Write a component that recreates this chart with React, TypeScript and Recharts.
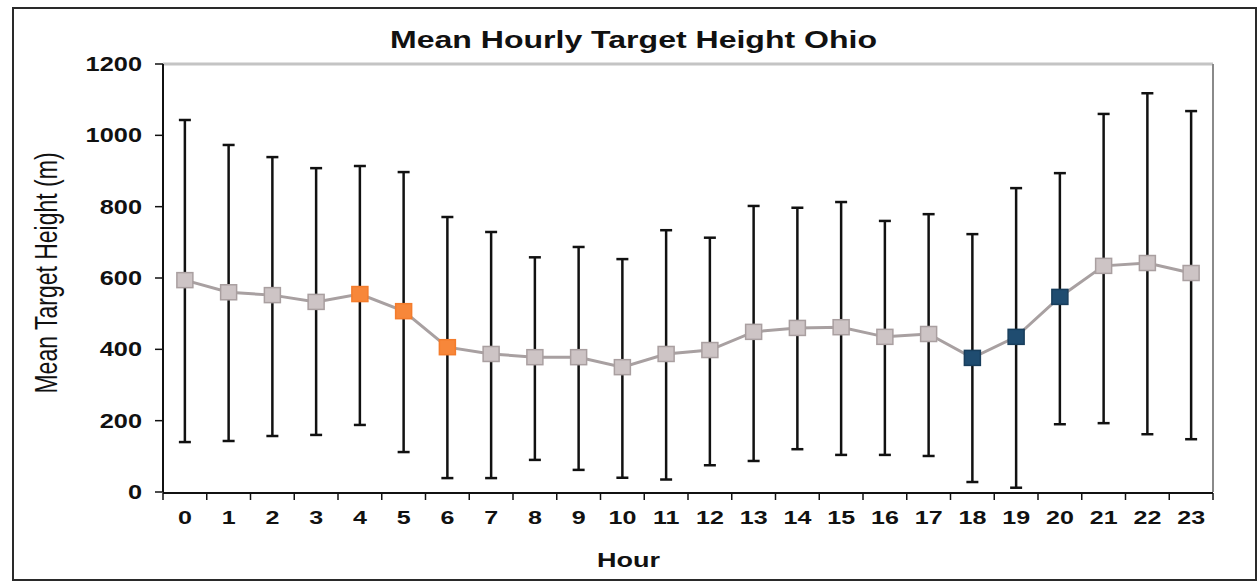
import React from 'react'
import { LineChart, Line, XAxis, YAxis, ErrorBar, ReferenceLine } from 'recharts'

// hour of day (x categories)
const hours = [0, 1, 2, 3, 4, 5, 6, 7, 8, 9, 10, 11, 12, 13, 14, 15, 16, 17, 18, 19, 20, 21, 22, 23]
// mean target height (m)
const means = [594, 560, 552, 533, 555, 507, 406, 387, 378, 378, 350, 387, 398, 449, 460, 462, 435, 443, 376, 435, 547, 634, 642, 614]
// top and bottom of each whisker
const highs = [1043, 973, 939, 908, 914, 897, 771, 729, 658, 687, 653, 734, 713, 802, 797, 813, 760, 779, 723, 852, 894, 1060, 1118, 1068]
const lows = [140, 143, 157, 160, 188, 112, 39, 39, 90, 62, 40, 35, 75, 87, 120, 104, 104, 101, 28, 12, 190, 193, 162, 148]
// marker groups: g = grey, o = orange, b = blue
const groups = ['g', 'g', 'g', 'g', 'o', 'o', 'o', 'g', 'g', 'g', 'g', 'g', 'g', 'g', 'g', 'g', 'g', 'g', 'b', 'b', 'b', 'g', 'g', 'g']
const yTicks = [0, 200, 400, 600, 800, 1000, 1200]

const fills: Record<string, string> = { g: '#cdc4c5', o: '#f7873a', b: '#1f4c70' }
const strokes: Record<string, string> = { g: '#a99fa0', o: '#f47c2c', b: '#183e5c' }

const data = hours.map((h, i) => ({
  hour: h,
  mean: means[i],
  err: [means[i] - lows[i], highs[i] - means[i]],
}))

// excel puts the tick marks between the categories
const boundaries = [-0.5, ...hours.map((h) => h + 0.5)]

const FONT = '"Liberation Sans", Arial, sans-serif'

function XTick({ x, y, payload }: any) {
  return (
    <g transform={`translate(${x},${y})`}>
      <text transform="scale(1.32,1)" y={32} textAnchor="middle" fontFamily={FONT} fontWeight="bold" fontSize={19} fill="#111">
        {payload.value}
      </text>
    </g>
  )
}

function YTick({ x, y, payload }: any) {
  return (
    <g transform={`translate(${x},${y})`}>
      <text transform="scale(1.3,1)" y={7} textAnchor="end" fontFamily={FONT} fontWeight="bold" fontSize={19.5} fill="#111">
        {payload.value}
      </text>
    </g>
  )
}

function Marker({ cx, cy, index }: any) {
  const g = groups[index]
  return <rect key={index} x={cx - 8} y={cy - 7.5} width={16} height={15} fill={fills[g]} stroke={strokes[g]} strokeWidth={1.5} />
}

export default function App() {
  return (
    <div style={{ position: 'absolute', left: 0, top: 0, width: 1259, height: 581, background: '#fff' }}>
      <div style={{ position: 'absolute', left: 12, top: 7, width: 1241, height: 570, border: '2px solid #2a2a2a' }} />
      <LineChart width={1259} height={581} data={data} margin={{ top: 64, right: 46, left: 0, bottom: 87 }}>
        <XAxis
          xAxisId="marks"
          type="number"
          dataKey="hour"
          domain={[-0.5, 23.5]}
          ticks={boundaries}
          interval={0}
          tickFormatter={() => ''}
          tickSize={7}
          height={1}
          axisLine={{ stroke: '#111', strokeWidth: 2 }}
          tickLine={{ stroke: '#111', strokeWidth: 1.5 }}
          allowDataOverflow
        />
        <XAxis
          xAxisId="main"
          type="number"
          dataKey="hour"
          domain={[-0.5, 23.5]}
          ticks={hours}
          interval={0}
          tick={<XTick />}
          tickSize={0}
          tickMargin={0}
          tickLine={false}
          axisLine={false}
          height={1}
          allowDataOverflow
        />
        <YAxis
          type="number"
          domain={[0, 1200]}
          ticks={yTicks}
          interval={0}
          width={163}
          tickSize={8}
          tickMargin={13}
          tick={<YTick />}
          axisLine={{ stroke: '#111', strokeWidth: 2 }}
          tickLine={{ stroke: '#111', strokeWidth: 1.5 }}
        />
        <ReferenceLine xAxisId="main" y={1200} stroke="#c4c4c4" strokeWidth={3} />
        <ReferenceLine xAxisId="main" x={23.5} stroke="#8a8a8a" strokeWidth={2} />
        <Line
          xAxisId="main"
          dataKey="mean"
          stroke="#a8a0a1"
          strokeWidth={3}
          dot={<Marker />}
          activeDot={false}
          isAnimationActive={false}
        >
          <ErrorBar dataKey="err" direction="y" width={6} stroke="#111" strokeWidth={2.5} isAnimationActive={false} />
        </Line>
      </LineChart>
      <svg width={1259} height={581} style={{ position: 'absolute', left: 0, top: 0, pointerEvents: 'none' }}>
        <text x={633.5} y={48} textAnchor="middle" fontFamily={FONT} fontWeight="bold" fontSize={23} fill="#111" textLength={487} lengthAdjust="spacingAndGlyphs">
          Mean Hourly Target Height Ohio
        </text>
        <text x={628.5} y={567} textAnchor="middle" fontFamily={FONT} fontWeight="bold" fontSize={21} fill="#111" textLength={63} lengthAdjust="spacingAndGlyphs">
          Hour
        </text>
        <g transform="translate(57,273) rotate(-90) scale(1,1.35)">
          <text x={0} y={0} textAnchor="middle" fontFamily={FONT} fontSize={23} fill="#111">
            Mean Target Height (m)
          </text>
        </g>
      </svg>
    </div>
  )
}
